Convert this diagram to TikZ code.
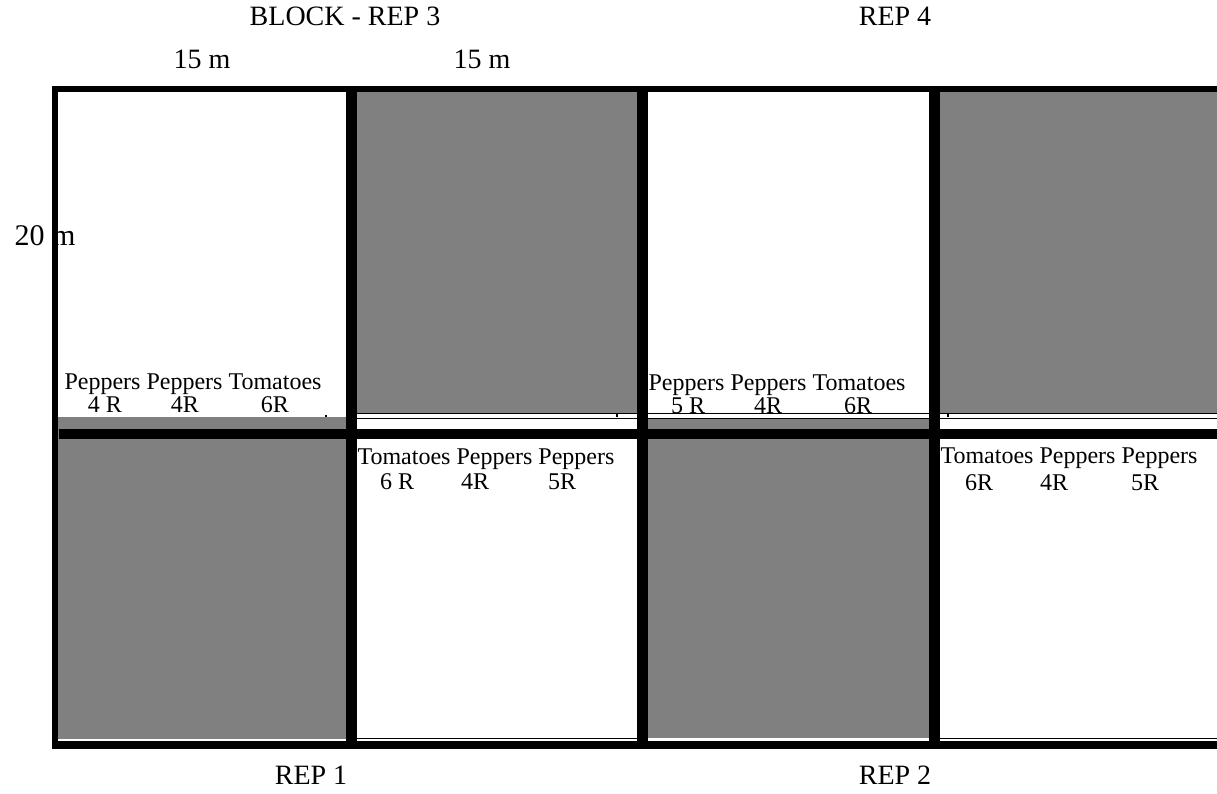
\documentclass[tikz,border=0pt]{standalone}
\usepackage{fontspec}
\setmainfont{Liberation Serif}
\begin{document}
\begin{tikzpicture}[x=1pt,y=-1pt,
  lbl/.style={inner sep=0pt, anchor=base, font=\fontsize{24}{28}\selectfont},
  title/.style={inner sep=0pt, anchor=base, font=\fontsize{28}{32}\selectfont},
  plot/.style={fill=gray},
  bar/.style={fill=black},
  edge/.style={line width=0.9pt},
  tick/.style={line width=1.2pt}]
\useasboundingbox (0,0) rectangle (1217,794);
\fill[white] (0,0) rectangle (1217,794);

% shaded plots
\fill[plot] (57,417) rectangle (346,739);
\fill[plot] (357,92) rectangle (637,413.2);
\fill[plot] (648,419) rectangle (929,737.5);
\fill[plot] (940,92) rectangle (1217,413.2);

% thin plot borders
\draw[edge] (357,413.8) -- (1217,413.8);
\draw[edge] (357,418) -- (1217,418);
\draw[edge] (357,738) -- (637,738);
\draw[edge] (940,738) -- (1217,738);

% small corner marks of the label boxes
\draw[tick] (326,414.5) -- (326,417);
\draw[tick] (617,414) -- (617,417);
\draw[tick] (948,414) -- (948,417);

% headings
\node[title] (blk) at (345,26) {BLOCK - REP 3};
\node[title] (rep4) at (895,26) {REP 4};
\node[title] (wa) at (202,69) {15 m};
\node[title] (wb) at (482,69) {15 m};
\node[title, font=\fontsize{30}{34}\selectfont] (len) at (45,246) {20 m};
\node[title] (rep1) at (311,784) {REP 1};
\node[title] (rep2) at (895,784) {REP 2};

% crop labels, rep 3 plot
\node[lbl] (a0) at (193,389) {Peppers Peppers Tomatoes};
\node[lbl] (a1) at (105,412) {4 R};
\node[lbl] (a2) at (185,412) {4R};
\node[lbl] (a3) at (275,412) {6R};

% crop labels, rep 4 plot
\node[lbl] (b0) at (777,390) {Peppers Peppers Tomatoes};
\node[lbl] (b1) at (688,413) {5 R};
\node[lbl] (b2) at (768,413) {4R};
\node[lbl] (b3) at (858,413) {6R};

% crop labels, rep 1 plot
\node[lbl] (c0) at (486,464) {Tomatoes Peppers Peppers};
\node[lbl] (c1) at (397,489) {6 R};
\node[lbl] (c2) at (475,489) {4R};
\node[lbl] (c3) at (562,489) {5R};

% crop labels, rep 2 plot
\node[lbl] (d0) at (1069,463) {Tomatoes Peppers Peppers};
\node[lbl] (d1) at (979,490) {6R};
\node[lbl] (d2) at (1054,490) {4R};
\node[lbl] (d3) at (1145,490) {5R};

% field frame and alleys
\fill[bar] (52,86) rectangle (1217,92);
\fill[bar] (52,86) rectangle (58,749);
\fill[bar] (52,741) rectangle (1217,749);
\fill[bar] (59,429) rectangle (1217,439);
\fill[bar] (346,86) rectangle (357,749);
\fill[bar] (637,86) rectangle (648,749);
\fill[bar] (929,86) rectangle (940,749);
\end{tikzpicture}
\end{document}
